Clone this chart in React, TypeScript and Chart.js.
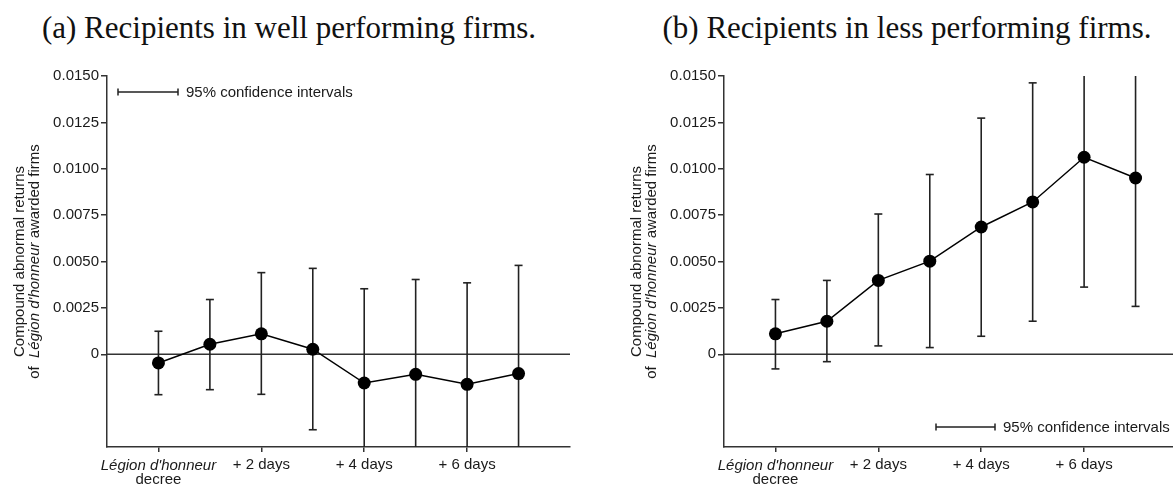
import React, { useEffect, useRef } from "react";
import { Chart, registerables } from "chart.js";

Chart.register(...registerables);

// ---- data ----
const DAYS = [0, 1, 2, 3, 4, 5, 6, 7];
const X_TICKS = [0, 2, 4, 6];
const X_TICK_LABELS = ["", "+ 2 days", "+ 4 days", "+ 6 days"];
const Y_TICKS = [0, 0.0025, 0.005, 0.0075, 0.01, 0.0125, 0.015];

const MEAN_A = [-0.00047, 0.00054, 0.0011, 0.00027, -0.00155, -0.00108, -0.00162, -0.00104];
const UPPER_A = [0.00124, 0.00295, 0.0044, 0.00463, 0.00353, 0.00403, 0.00385, 0.00479];
const LOWER_A = [-0.00218, -0.00191, -0.00216, -0.00407, -0.00663, -0.00619, -0.00709, -0.00687];

const MEAN_B = [0.0011, 0.00178, 0.00398, 0.00502, 0.00686, 0.00821, 0.01062, 0.0095];
const UPPER_B = [0.00295, 0.00398, 0.00756, 0.00969, 0.01273, 0.01463, 0.01762, 0.01642];
const LOWER_B = [-0.00079, -0.0004, 0.00045, 0.00036, 0.00097, 0.00178, 0.00362, 0.00258];

const TITLE_A = "(a) Recipients in well performing firms.";
const TITLE_B = "(b) Recipients in less performing firms.";
const LEGEND_TEXT = "95% confidence intervals";
const Y_TITLE_1 = "Compound abnormal returns";
const Y_TITLE_2_PRE = "of  ";
const Y_TITLE_2_IT = "Légion d'honneur";
const Y_TITLE_2_POST = " awarded firms";
const X_FIRST_IT = "Légion d'honneur";
const X_FIRST_2 = "decree";

const SANS = "'Liberation Sans', Arial, sans-serif";
const AXIS_COLOR = "#333";
const TEXT_COLOR = "#1a1a1a";

type PanelProps = {
  left: number;
  mean: number[];
  upper: number[];
  lower: number[];
  legend: { x1: number; x2: number; y: number };
};

function Panel({ left, mean, upper, lower, legend }: PanelProps) {
  const ref = useRef<HTMLCanvasElement | null>(null);
  useEffect(() => {
    if (!ref.current) return;
    const extras = {
      id: "extras",
      beforeDatasetsDraw(chart: any) {
        const { ctx, chartArea } = chart;
        const xs = chart.scales.x;
        const ys = chart.scales.y;
        // zero line
        ctx.save();
        ctx.strokeStyle = AXIS_COLOR;
        ctx.lineWidth = 1.5;
        const y0 = ys.getPixelForValue(0);
        ctx.beginPath();
        ctx.moveTo(chartArea.left, y0);
        ctx.lineTo(chartArea.right, y0);
        ctx.stroke();
        ctx.restore();
        // error bars
        ctx.save();
        ctx.beginPath();
        ctx.rect(chartArea.left, chartArea.top, chartArea.right - chartArea.left, chartArea.bottom - chartArea.top);
        ctx.clip();
        ctx.strokeStyle = "#222";
        ctx.lineWidth = 1.6;
        DAYS.forEach((d, i) => {
          const x = xs.getPixelForValue(d);
          const yu = ys.getPixelForValue(upper[i]);
          const yl = ys.getPixelForValue(lower[i]);
          ctx.beginPath();
          ctx.moveTo(x, yu);
          ctx.lineTo(x, yl);
          ctx.stroke();
          const cap = 4;
          if (upper[i] <= ys.max) {
            ctx.beginPath();
            ctx.moveTo(x - cap, yu);
            ctx.lineTo(x + cap, yu);
            ctx.stroke();
          }
          if (lower[i] >= ys.min) {
            ctx.beginPath();
            ctx.moveTo(x - cap, yl);
            ctx.lineTo(x + cap, yl);
            ctx.stroke();
          }
        });
        ctx.restore();
      },
      afterDraw(chart: any) {
        const { ctx, chartArea } = chart;
        const xs = chart.scales.x;
        ctx.save();
        ctx.fillStyle = TEXT_COLOR;
        // legend
        ctx.strokeStyle = "#222";
        ctx.lineWidth = 1.5;
        ctx.beginPath();
        ctx.moveTo(legend.x1, legend.y);
        ctx.lineTo(legend.x2, legend.y);
        ctx.moveTo(legend.x1, legend.y - 3.5);
        ctx.lineTo(legend.x1, legend.y + 3.5);
        ctx.moveTo(legend.x2, legend.y - 3.5);
        ctx.lineTo(legend.x2, legend.y + 3.5);
        ctx.stroke();
        ctx.font = `15px ${SANS}`;
        ctx.textAlign = "left";
        ctx.textBaseline = "middle";
        ctx.fillText(LEGEND_TEXT, legend.x2 + 8, legend.y + 1);
        // first x label
        const x0 = xs.getPixelForValue(0);
        ctx.textAlign = "center";
        ctx.font = `italic 15px ${SANS}`;
        ctx.fillText(X_FIRST_IT, x0, chartArea.bottom + 19);
        ctx.font = `15px ${SANS}`;
        ctx.fillText(X_FIRST_2, x0, chartArea.bottom + 33);
        // y title
        const cy = (chartArea.top + chartArea.bottom) / 2;
        ctx.save();
        ctx.translate(20, cy);
        ctx.rotate(-Math.PI / 2);
        ctx.font = `15px ${SANS}`;
        ctx.textAlign = "center";
        ctx.fillText(Y_TITLE_1, 0, 0);
        ctx.restore();
        ctx.save();
        ctx.translate(35, cy);
        ctx.rotate(-Math.PI / 2);
        ctx.textAlign = "left";
        ctx.font = `15px ${SANS}`;
        const w1 = ctx.measureText(Y_TITLE_2_PRE).width;
        const w3 = ctx.measureText(Y_TITLE_2_POST).width;
        ctx.font = `italic 15px ${SANS}`;
        const w2 = ctx.measureText(Y_TITLE_2_IT).width;
        let cx = -(w1 + w2 + w3) / 2;
        ctx.font = `15px ${SANS}`;
        ctx.fillText(Y_TITLE_2_PRE, cx, 0);
        cx += w1;
        ctx.font = `italic 15px ${SANS}`;
        ctx.fillText(Y_TITLE_2_IT, cx, 0);
        cx += w2;
        ctx.font = `15px ${SANS}`;
        ctx.fillText(Y_TITLE_2_POST, cx, 0);
        ctx.restore();
        ctx.restore();
      },
    };

    const chart = new Chart(ref.current, {
      type: "line",
      data: {
        datasets: [
          {
            data: DAYS.map((d, i) => ({ x: d, y: mean[i] })),
            borderColor: "#000",
            borderWidth: 1.5,
            pointRadius: 6.5,
            pointBackgroundColor: "#000",
            pointBorderWidth: 0,
            tension: 0,
          },
        ],
      },
      options: {
        responsive: false,
        animation: false,
        devicePixelRatio: 1,
        layout: { padding: { top: 76, left: 0, right: 30, bottom: 0 } },
        plugins: { legend: { display: false }, tooltip: { enabled: false }, title: { display: false } },
        scales: {
          x: {
            type: "linear",
            min: -1,
            max: 8,
            afterFit: (s: any) => {
              s.height = 38;
            },
            afterBuildTicks: (s: any) => {
              s.ticks = X_TICKS.map((v) => ({ value: v }));
            },
            ticks: {
              callback: (v: any) => {
                const i = X_TICKS.indexOf(Number(v));
                return i >= 0 ? X_TICK_LABELS[i] : "";
              },
              font: { family: SANS, size: 15 },
              color: TEXT_COLOR,
              padding: 4,
              maxRotation: 0,
              autoSkip: false,
            },
            grid: { drawOnChartArea: false, drawTicks: true, tickLength: 5, color: AXIS_COLOR, lineWidth: 1.5 },
            border: { display: true, color: AXIS_COLOR, width: 1.5 },
          },
          y: {
            type: "linear",
            min: -0.005,
            max: 0.015,
            afterFit: (s: any) => {
              s.width = 107;
            },
            afterBuildTicks: (s: any) => {
              s.ticks = Y_TICKS.map((v) => ({ value: v }));
            },
            ticks: {
              callback: (v: any) => (Number(v) === 0 ? "0" : Number(v).toFixed(4)),
              font: { family: SANS, size: 15 },
              color: TEXT_COLOR,
              padding: 2,
            },
            grid: { drawOnChartArea: false, drawTicks: true, tickLength: 6, color: AXIS_COLOR, lineWidth: 1.5 },
            border: { display: true, color: AXIS_COLOR, width: 1.5 },
          },
        },
      },
      plugins: [extras],
    } as any);
    return () => chart.destroy();
  }, []);
  return (
    <canvas
      ref={ref}
      width={600}
      height={485}
      style={{ position: "absolute", left, top: 0, width: 600, height: 485 }}
    />
  );
}

export default function App() {
  const titleStyle = (center: number): React.CSSProperties => ({
    position: "absolute",
    left: center - 300,
    top: 12,
    width: 600,
    textAlign: "center",
    fontFamily: "'Liberation Serif', 'Times New Roman', serif",
    fontSize: 31,
    lineHeight: "31px",
    color: "#111",
    whiteSpace: "nowrap",
  });
  return (
    <div
      style={{
        position: "absolute",
        left: 0,
        top: 0,
        width: 1173,
        height: 485,
        overflow: "hidden",
        background: "#fff",
      }}
    >
      <div style={titleStyle(289)}>{TITLE_A}</div>
      <div style={titleStyle(907)}>{TITLE_B}</div>
      <Panel left={0} mean={MEAN_A} upper={UPPER_A} lower={LOWER_A} legend={{ x1: 118, x2: 178, y: 92 }} />
      <Panel left={617} mean={MEAN_B} upper={UPPER_B} lower={LOWER_B} legend={{ x1: 319, x2: 378, y: 427 }} />
    </div>
  );
}
